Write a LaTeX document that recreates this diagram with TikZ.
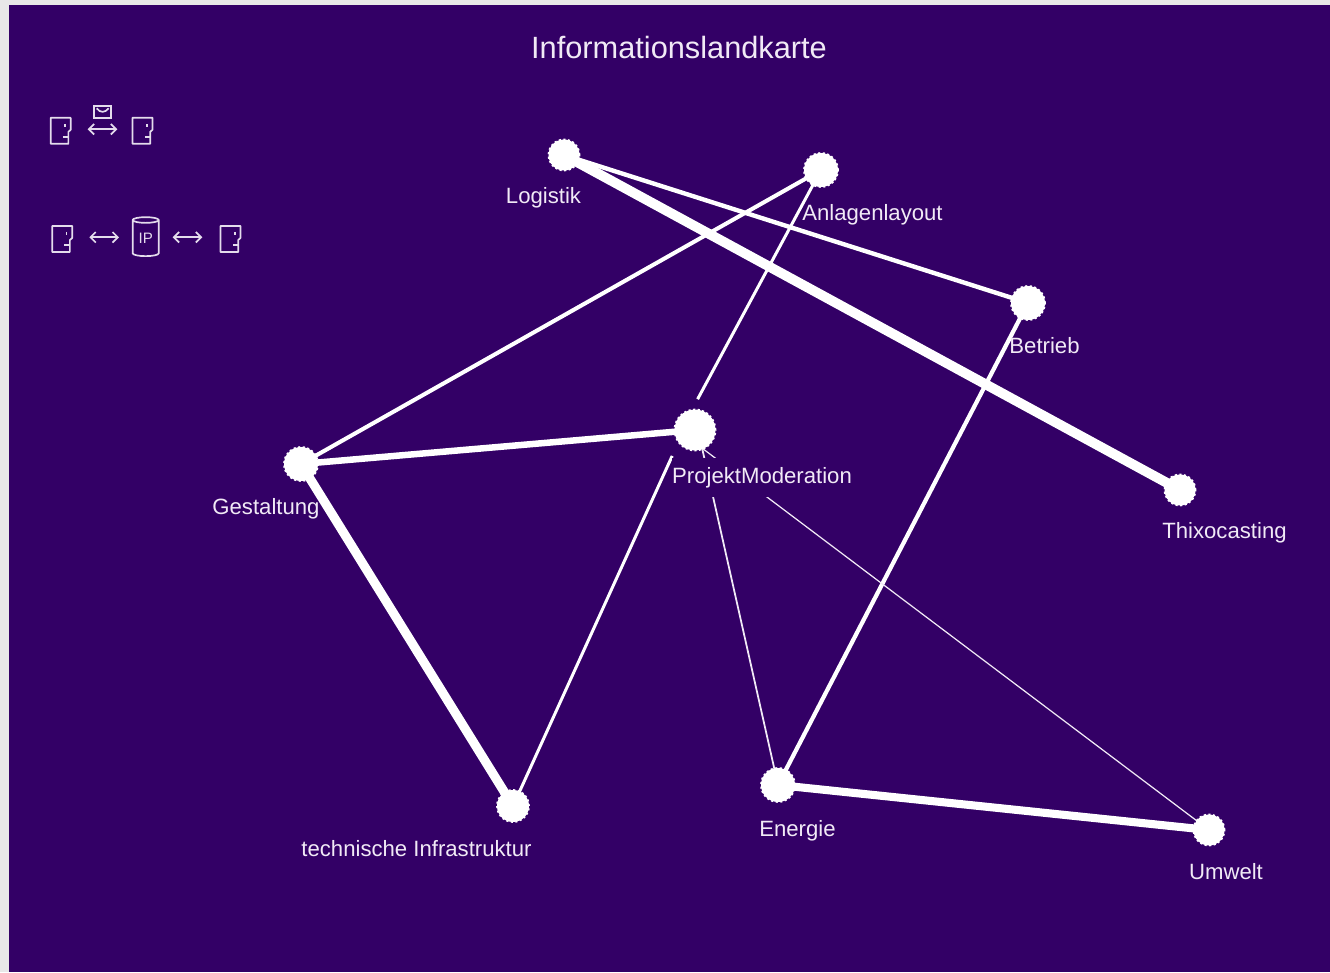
\documentclass[tikz,border=0pt]{standalone}
\usepackage{fontspec}
\setmainfont{Liberation Sans}
\usetikzlibrary{arrows.meta, shapes.geometric}
\definecolor{mapbg}{HTML}{330066}
\definecolor{mapstrip}{HTML}{E8E8E8}
\definecolor{mapink}{HTML}{F1EAF6}
\definecolor{iconink}{HTML}{E4DCEC}
\tikzset{
    topic/.style={circle, fill=white, draw=white, line width=0.5pt, dash pattern=on 0.6pt off 0.7pt, inner sep=0, minimum size=#1},
    maplabel/.style={anchor=base, inner sep=0, text=mapink, font=\fontsize{6.3}{7}\selectfont},
    masklabel/.style={maplabel, fill=mapbg, text height=7.4pt, text depth=3.7pt},
    link/.style={white, line width=#1},
    iconline/.style={iconink, line width=0.48pt},
    iconarrow/.style={iconline, {Straight Barb[length=1.5pt,width=3pt]}-{Straight Barb[length=1.5pt,width=3pt]}},
    door/.pic={
        \draw[iconline, line join=round] (-0.10,0.13) -- (0.10,0.13) -- (0.10,0.01) -- (0.077,-0.01) -- (0.077,-0.13) -- (-0.10,-0.13) -- cycle;
        \draw[iconline] (0.023,-0.06) -- (0.077,-0.06) (0.043,0.07) -- (0.043,0.035);
    }
}
\begin{document}
\begin{tikzpicture}
    \useasboundingbox (0,0) rectangle (13.3,9.72);
    \fill[mapstrip] (0,0) rectangle (13.3,9.72);
    \fill[mapbg] (0.09,0) rectangle (13.3,9.67);

    \node[maplabel, font=\fontsize{8.75}{10}\selectfont] (title) at (6.79,9.13) {Informationslandkarte};

    % legend
    \pic at (0.607,8.412) {door};
    \pic at (1.425,8.412) {door};
    \coordinate (mailL) at (0.877,8.427);
    \coordinate (mailR) at (1.173,8.427);
    \draw[iconarrow] (mailL) -- (mailR);
    \draw[iconline] (0.94,8.54) rectangle (1.11,8.66);
    \draw[iconline] (0.967,8.637) .. controls (1.00,8.59) and (1.05,8.59) .. (1.087,8.637);

    \pic at (0.622,7.33) {door};
    \pic at (2.305,7.33) {door};
    \node[cylinder, draw=iconink, line width=0.48pt, shape border rotate=90, aspect=0.4, minimum height=0.39cm, minimum width=0.26cm, inner sep=0, text=iconink, font=\fontsize{4.3}{5}\selectfont] (drum) at (1.457,7.335) {IP};
    \coordinate (srvA) at (0.893,7.347);
    \coordinate (srvB) at (1.19,7.347);
    \coordinate (srvC) at (1.727,7.347);
    \coordinate (srvD) at (2.023,7.347);
    \draw[iconarrow] (srvA) -- (srvB);
    \draw[iconarrow] (srvC) -- (srvD);

    % topics
    \coordinate (hubA) at (6.81,5.42);
    \coordinate (hubT) at (6.84,5.42);
    \coordinate (hubE) at (6.98,5.42);
    \coordinate (hubU) at (6.78,5.42);
    \coordinate (logi) at (5.64,8.17);
    \coordinate (anla) at (8.21,8.02);
    \coordinate (betr) at (10.28,6.69);
    \coordinate (proj) at (6.95,5.42);
    \coordinate (thix) at (11.80,4.82);
    \coordinate (gest) at (3.01,5.08);
    \coordinate (tech) at (5.13,1.66);
    \coordinate (ener) at (7.78,1.87);
    \coordinate (umwe) at (12.09,1.42);

    \draw[link=2.8pt] (logi) -- (thix);
    \draw[link=1.25pt] (logi) -- (betr);
    \draw[link=1.15pt] (gest) -- (anla);
    \draw[link=1.85pt] (gest) -- (proj);
    \draw[link=2.6pt] (gest) -- (tech);
    \draw[link=1.2pt] (betr) -- (ener);
    \draw[link=2.3pt] (ener) -- (umwe);
    \draw[link=0.85pt, shorten <=0.35cm] (hubA) -- (anla);
    \draw[link=0.85pt, shorten <=0.285cm] (hubT) -- (tech);
    \draw[link=0.5pt, mapink] (hubE) -- (ener);
    \draw[link=0.35pt, mapink] (hubU) -- (umwe);

    \node[topic=0.31cm] (Logistik) at (logi) {};
    \node[topic=0.34cm] (Anlagenlayout) at (anla) {};
    \node[topic=0.34cm] (Betrieb) at (betr) {};
    \node[topic=0.41cm] (ProjektModeration) at (proj) {};
    \node[topic=0.31cm] (Thixocasting) at (thix) {};
    \node[topic=0.34cm] (Gestaltung) at (gest) {};
    \node[topic=0.32cm] (Infrastruktur) at (tech) {};
    \node[topic=0.34cm] (Energie) at (ener) {};
    \node[topic=0.31cm] (Umwelt) at (umwe) {};

    \node[maplabel] (labelLogistik) at (5.435,7.68) {Logistik};
    \node[maplabel] (labelAnlagen) at (8.725,7.51) {Anlagenlayout};
    \node[maplabel] (labelBetrieb) at (10.445,6.18) {Betrieb};
    \node[masklabel] (labelProjekt) at (7.62,4.88) {ProjektModeration};
    \node[maplabel] (labelThixo) at (12.245,4.33) {Thixocasting};
    \node[maplabel] (labelGestaltung) at (2.66,4.57) {Gestaltung};
    \node[maplabel] (labelInfra) at (4.165,1.16) {technische Infrastruktur};
    \node[maplabel] (labelEnergie) at (7.975,1.36) {Energie};
    \node[maplabel] (labelUmwelt) at (12.26,0.93) {Umwelt};
\end{tikzpicture}
\end{document}
